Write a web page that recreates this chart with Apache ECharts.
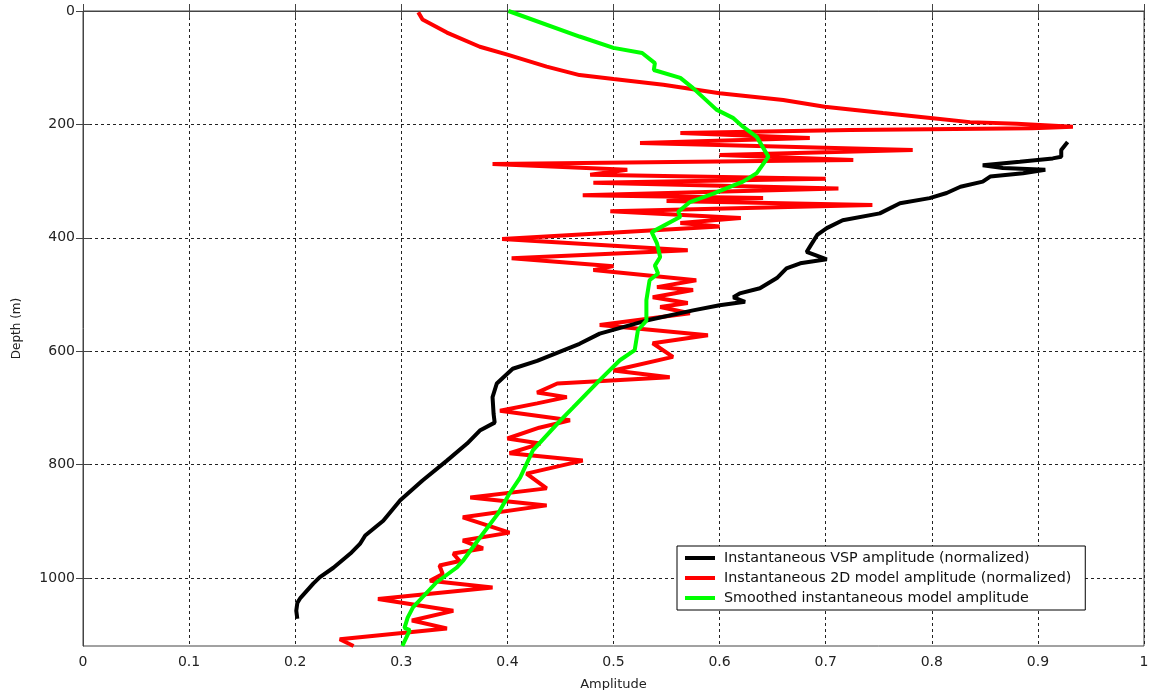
<!DOCTYPE html>
<html>
<head>
<meta charset="utf-8">
<script src="https://cdn.jsdelivr.net/npm/echarts@6/dist/echarts.min.js"></script>
<style>
html, body { margin: 0; padding: 0; background: #fff; }
#container { width: 1149px; height: 690px; }
</style>
</head>
<body>
<div id="container"></div>
<script>
// Instantaneous VSP amplitude (normalized)
var vspDepth = [231, 245, 257, 260, 266, 272, 277, 280, 286, 292, 301, 310, 321, 330, 339, 357, 369, 383, 395, 416, 425, 438, 445, 454, 471, 489, 498, 505, 513, 519, 528, 546, 569, 587, 617, 631, 657, 681, 711, 726, 740, 763, 793, 828, 863, 899, 925, 940, 957, 982, 999, 1010, 1035, 1044, 1058, 1072];
var vspAmp = [0.928, 0.922, 0.922, 0.914, 0.883, 0.848, 0.867, 0.907, 0.886, 0.855, 0.848, 0.827, 0.814, 0.798, 0.770, 0.751, 0.716, 0.701, 0.692, 0.685, 0.682, 0.701, 0.676, 0.663, 0.654, 0.638, 0.619, 0.613, 0.624, 0.600, 0.575, 0.531, 0.487, 0.468, 0.428, 0.405, 0.390, 0.386, 0.387, 0.388, 0.374, 0.362, 0.343, 0.320, 0.299, 0.283, 0.266, 0.261, 0.252, 0.236, 0.223, 0.217, 0.205, 0.202, 0.201, 0.202];

// Instantaneous 2D model amplitude (normalized)
var modelDepth = [2, 15, 38, 63, 77, 98, 113, 120, 130, 145, 157, 169, 180, 189, 196, 199, 204, 207, 210, 215, 224, 233, 245, 254, 263, 270, 280, 289, 296, 303, 313, 325, 330, 335, 342, 353, 365, 374, 380, 402, 422, 436, 450, 457, 475, 487, 492, 505, 515, 522, 533, 554, 572, 586, 610, 634, 646, 657, 673, 681, 692, 705, 722, 735, 754, 763, 780, 793, 816, 842, 858, 872, 893, 920, 934, 948, 957, 970, 978, 993, 1005, 1017, 1037, 1058, 1075, 1089, 1108, 1120];
var modelAmp = [0.316, 0.320, 0.343, 0.374, 0.400, 0.437, 0.468, 0.500, 0.547, 0.600, 0.660, 0.699, 0.754, 0.801, 0.836, 0.880, 0.933, 0.895, 0.723, 0.563, 0.685, 0.525, 0.782, 0.600, 0.726, 0.386, 0.513, 0.478, 0.700, 0.481, 0.712, 0.471, 0.641, 0.550, 0.744, 0.497, 0.620, 0.563, 0.600, 0.395, 0.570, 0.404, 0.500, 0.481, 0.578, 0.541, 0.575, 0.537, 0.570, 0.544, 0.572, 0.487, 0.589, 0.537, 0.556, 0.500, 0.553, 0.447, 0.428, 0.456, 0.428, 0.393, 0.459, 0.430, 0.400, 0.431, 0.402, 0.471, 0.418, 0.437, 0.365, 0.437, 0.358, 0.402, 0.358, 0.377, 0.349, 0.355, 0.336, 0.339, 0.327, 0.386, 0.278, 0.349, 0.310, 0.343, 0.242, 0.255];

// Smoothed instantaneous model amplitude
var smoothDepth = [0, 45, 65, 74, 92, 104, 118, 136, 174, 189, 204, 222, 257, 286, 301, 322, 337, 354, 363, 390, 410, 434, 449, 463, 475, 510, 546, 563, 598, 616, 651, 699, 722, 775, 823, 851, 887, 929, 970, 982, 1008, 1052, 1070, 1088, 1092, 1120];
var smoothAmp = [0.401, 0.468, 0.500, 0.527, 0.539, 0.538, 0.563, 0.575, 0.597, 0.613, 0.622, 0.635, 0.646, 0.635, 0.622, 0.594, 0.572, 0.561, 0.563, 0.536, 0.541, 0.544, 0.539, 0.542, 0.534, 0.531, 0.531, 0.523, 0.520, 0.506, 0.487, 0.462, 0.450, 0.424, 0.412, 0.402, 0.391, 0.374, 0.358, 0.352, 0.333, 0.311, 0.306, 0.303, 0.308, 0.301];

var seriesNames = ['Instantaneous VSP amplitude (normalized)', 'Instantaneous 2D model amplitude (normalized)', 'Smoothed instantaneous model amplitude'];
var seriesColors = ['#000000', '#ff0000', '#00ff00'];

var xTicks = [0, 0.1, 0.2, 0.3, 0.4, 0.5, 0.6, 0.7, 0.8, 0.9, 1];
var yTicks = [0, 200, 400, 600, 800, 1000];

function pairs(amp, depth) {
    var out = [];
    for (var i = 0; i < amp.length; i++) {
        out.push([amp[i], depth[i]]);
    }
    return out;
}

var myChart = echarts.init(document.getElementById('container'));

var FONT = 'DejaVu Sans, Verdana, sans-serif';
var labelFont = { fontFamily: FONT, fontSize: 14, color: '#222' };
var dashed = { show: true, lineStyle: { color: '#222', type: [3, 3], width: 1 } };
var innerTick = { show: true, inside: true, length: 7, lineStyle: { color: '#444' } };

var allData = [pairs(vspAmp, vspDepth), pairs(modelAmp, modelDepth), pairs(smoothAmp, smoothDepth)];

var option = {
    animation: false,
    backgroundColor: '#fff',
    grid: {
        left: 83,
        right: 5,
        top: 11,
        bottom: 44,
        outerBoundsMode: 'none',
        containLabel: false,
        show: true,
        borderColor: '#444',
        borderWidth: 1,
        backgroundColor: 'transparent'
    },
    legend: {
        orient: 'vertical',
        left: 677,
        top: 546,
        icon: 'rect',
        itemWidth: 30,
        itemHeight: 4,
        itemGap: 6,
        padding: [5, 14, 5, 8],
        backgroundColor: '#fff',
        borderColor: '#000',
        borderWidth: 1,
        textStyle: { fontFamily: FONT, fontSize: 14.3, color: '#111', padding: [0, 0, 0, 4] },
        data: seriesNames
    },
    xAxis: [{
        type: 'value',
        min: 0,
        max: 1,
        interval: 0.1,
        name: 'Amplitude',
        nameLocation: 'middle',
        nameGap: 32,
        nameTextStyle: Object.assign({}, labelFont, { fontSize: 13 }),
        axisLine: { show: true, lineStyle: { color: '#444', width: 1 } },
        axisTick: Object.assign({ customValues: xTicks }, innerTick),
        axisLabel: Object.assign({ margin: 9, customValues: xTicks, formatter: function (v) { return String(v); } }, labelFont),
        splitLine: dashed
    }, {
        type: 'value',
        position: 'top',
        min: 0,
        max: 1,
        interval: 0.1,
        axisLine: { show: false },
        axisTick: Object.assign({ customValues: xTicks }, innerTick),
        axisLabel: { show: false },
        splitLine: { show: false }
    }],
    yAxis: [{
        type: 'value',
        inverse: true,
        min: 0,
        max: 1120,
        interval: 200,
        name: 'Depth (m)',
        nameLocation: 'middle',
        nameGap: 60,
        nameRotate: 90,
        nameTextStyle: Object.assign({}, labelFont, { fontSize: 12 }),
        axisLine: { show: true, lineStyle: { color: '#444', width: 1 } },
        axisTick: Object.assign({ customValues: yTicks }, innerTick),
        axisLabel: Object.assign({ margin: 8, customValues: yTicks, formatter: function (v) { return String(v); } }, labelFont),
        splitLine: dashed
    }, {
        type: 'value',
        position: 'right',
        inverse: true,
        min: 0,
        max: 1120,
        interval: 200,
        axisLine: { show: false },
        axisTick: Object.assign({ customValues: yTicks }, innerTick),
        axisLabel: { show: false },
        splitLine: { show: false }
    }],
    series: seriesNames.map(function (name, i) {
        return {
            name: name,
            type: 'line',
            xAxisIndex: 0,
            yAxisIndex: 0,
            data: allData[i],
            showSymbol: false,
            symbol: 'none',
            smooth: false,
            color: seriesColors[i],
            lineStyle: { color: seriesColors[i], width: 4 },
            z: i === 0 ? 3 : (i === 1 ? 2 : 4)
        };
    })
};

myChart.setOption(option);
</script>
</body>
</html>
